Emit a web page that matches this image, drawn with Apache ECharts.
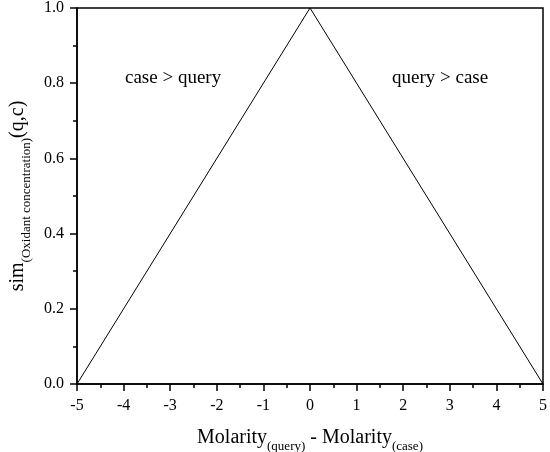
<!DOCTYPE html>
<html>
<head>
<meta charset="utf-8">
<script src="https://cdn.jsdelivr.net/npm/echarts@6/dist/echarts.min.js"></script>
<style>
  html, body { margin: 0; padding: 0; background: #fff; }
  #chart { width: 550px; height: 452px; }
</style>
</head>
<body>
<div id="chart"></div>
<script>
// Molarity difference (query - case) and similarity
const diffValues = [-5, 0, 5]
const simValues = [0, 1, 0]
const xTicks = [-5, -4, -3, -2, -1, 0, 1, 2, 3, 4, 5]
const yTicks = [0, 0.2, 0.4, 0.6, 0.8, 1.0]
const regionLabels = ['case > query', 'query > case']

const chart = echarts.init(document.getElementById('chart'))
const serif = 'Liberation Serif, Times New Roman, serif'

const richName = {
  a: { fontFamily: serif, fontSize: 20, color: '#000', verticalAlign: 'bottom', lineHeight: 24 },
  sub: { fontFamily: serif, fontSize: 13, color: '#000', verticalAlign: 'bottom', lineHeight: 18, padding: [0, 0, -5, 0] }
}

const axisCommon = {
  axisLine: { show: true, onZero: false, lineStyle: { color: '#000', width: 1.5 } },
  axisTick: { show: true, inside: false, length: 7, lineStyle: { color: '#000', width: 1.5 } },
  minorTick: { show: true, splitNumber: 2, length: 4, lineStyle: { color: '#000', width: 1.5 } },
  splitLine: { show: false }
}

chart.setOption({
  animation: false,
  grid: {
    left: 77, right: 7, top: 8, bottom: 68,
    containLabel: false, outerBoundsMode: 'none',
    show: true, borderColor: '#000', borderWidth: 1.5
  },
  xAxis: {
    type: 'value',
    min: xTicks[0],
    max: xTicks[xTicks.length - 1],
    interval: 1,
    name: '{a|Molarity}{sub|(query)}{a| - Molarity}{sub|(case)}',
    nameLocation: 'middle',
    nameGap: 40,
    nameTextStyle: { rich: richName },
    ...axisCommon,
    axisLabel: { color: '#000', fontFamily: serif, fontSize: 16, margin: 14, formatter: v => String(v) }
  },
  yAxis: {
    type: 'value',
    min: yTicks[0],
    max: yTicks[yTicks.length - 1],
    interval: 0.2,
    name: '{a|sim}{sub|(Oxidant concentration)}{a|(q,c)}',
    nameLocation: 'middle',
    nameGap: 48,
    nameRotate: 90,
    nameTextStyle: { rich: richName },
    ...axisCommon,
    axisLabel: { color: '#000', fontFamily: serif, fontSize: 16, margin: 13, formatter: v => v.toFixed(1) }
  },
  graphic: [
    { type: 'text', left: 125, top: 69, style: { text: regionLabels[0], font: '19px ' + serif, fill: '#000' } },
    { type: 'text', left: 392, top: 69, style: { text: regionLabels[1], font: '19px ' + serif, fill: '#000' } }
  ],
  series: [
    {
      type: 'line',
      data: diffValues.map((x, i) => [x, simValues[i]]),
      symbol: 'none',
      lineStyle: { color: '#000', width: 1 }
    }
  ]
})
</script>
</body>
</html>
